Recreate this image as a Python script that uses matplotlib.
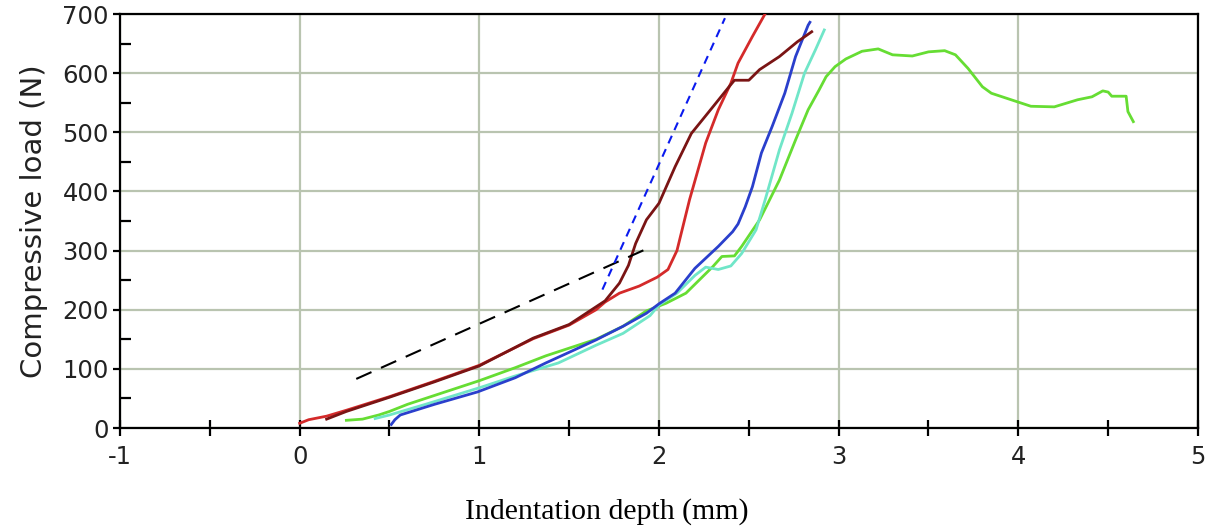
import matplotlib
matplotlib.use("Agg")
import matplotlib.pyplot as plt
from matplotlib.ticker import MultipleLocator

plt.rcParams["axes.unicode_minus"] = False

# ---- data ----
red_x = [0.00, 0.05, 0.15, 0.26, 0.50, 0.74, 1.00, 1.30, 1.50, 1.65, 1.70, 1.78, 1.89, 1.99, 2.05, 2.10, 2.17, 2.26, 2.33, 2.40, 2.44, 2.52, 2.59, 2.63]
red_y = [8, 14, 20, 30, 53, 78, 106, 151, 174, 200, 213, 228, 240, 255, 268, 300, 386, 482, 538, 583, 617, 662, 700, 720]

maroon_x = [0.15, 0.26, 0.50, 0.75, 1.00, 1.30, 1.50, 1.65, 1.70, 1.78, 1.83, 1.87, 1.93, 2.00, 2.09, 2.18, 2.30, 2.39, 2.42, 2.50, 2.56, 2.67, 2.77, 2.85]
maroon_y = [15, 28, 52, 78, 105, 152, 175, 205, 215, 245, 275, 312, 352, 380, 442, 498, 543, 577, 588, 588, 606, 628, 653, 670]

blue_x = [0.51, 0.53, 0.56, 0.75, 0.99, 1.20, 1.37, 1.50, 1.65, 1.80, 1.93, 2.00, 2.09, 2.20, 2.33, 2.41, 2.44, 2.48, 2.52, 2.57, 2.63, 2.70, 2.76, 2.83, 2.84]
blue_y = [6, 14, 22, 40, 61, 85, 110, 128, 149, 172, 194, 210, 228, 270, 307, 332, 345, 374, 408, 465, 510, 566, 628, 681, 686]

cyan_x = [0.42, 0.50, 0.70, 1.00, 1.20, 1.44, 1.65, 1.80, 1.95, 2.00, 2.10, 2.20, 2.26, 2.33, 2.40, 2.46, 2.54, 2.59, 2.67, 2.74, 2.81, 2.87, 2.92]
cyan_y = [16, 22, 40, 68, 88, 110, 140, 160, 190, 208, 228, 258, 272, 268, 274, 295, 335, 385, 470, 532, 600, 639, 673]

green_x = [0.26, 0.35, 0.44, 0.50, 0.60, 0.80, 1.00, 1.20, 1.37, 1.52, 1.65, 1.80, 1.93, 2.04, 2.15, 2.30, 2.35, 2.42, 2.46, 2.56, 2.67, 2.76, 2.83, 2.89, 2.93, 2.98, 3.04, 3.13, 3.22, 3.30, 3.41, 3.50, 3.59, 3.65, 3.72, 3.80, 3.85, 3.96, 4.07, 4.20, 4.33, 4.41, 4.47, 4.50, 4.52, 4.60, 4.61, 4.64]
green_y = [13, 15, 22, 28, 40, 60, 80, 102, 122, 137, 150, 172, 198, 211, 228, 273, 290, 291, 307, 352, 419, 487, 538, 571, 594, 611, 624, 637, 641, 631, 629, 636, 638, 631, 608, 577, 566, 555, 544, 543, 555, 560, 570, 568, 561, 561, 535, 518]

black_dash_x = [0.315, 1.925]
black_dash_y = [83, 302]
blue_dash_x = [1.685, 2.367]
blue_dash_y = [234, 693]

x_ticks = [-1, 0, 1, 2, 3, 4, 5]
y_ticks = [0, 100, 200, 300, 400, 500, 600, 700]

# ---- figure ----
fig = plt.figure(figsize=(12.13, 5.29), dpi=100)
ax = fig.add_axes([120/1213, 101/529, 1078/1213, 414/529])

grid_c = "#b9c4b0"
ax.set_xlim(-1, 5)
ax.set_ylim(0, 700)
ax.set_xticks(x_ticks)
ax.set_yticks(y_ticks)
ax.xaxis.set_minor_locator(MultipleLocator(0.5))
ax.yaxis.set_minor_locator(MultipleLocator(50))
ax.grid(True, which="major", color=grid_c, linewidth=1.6, zorder=0)
ax.set_axisbelow(True)

lw = 2.0
ax.plot(green_x, green_y, color="#66dd33", lw=lw, zorder=3)
ax.plot(cyan_x, cyan_y, color="#70e6c8", lw=lw, zorder=4)
ax.plot(blue_x, blue_y, color="#2a3fcc", lw=lw, zorder=5)
ax.plot(red_x, red_y, color="#d42a2a", lw=lw, zorder=6)
ax.plot(maroon_x, maroon_y, color="#7a1414", lw=lw, zorder=7)
ax.plot(black_dash_x, black_dash_y, color="black", lw=1.5, dashes=(8, 5), zorder=8)
ax.plot(blue_dash_x, blue_dash_y, color="#0a1aee", lw=1.5, dashes=(4, 3), zorder=8)

for s in ax.spines.values():
    s.set_linewidth(1.6)
    s.set_color("black")

ax.tick_params(axis="x", which="both", direction="inout", length=11, width=1.6,
               labelsize=17.5, pad=7)
ax.tick_params(axis="y", which="major", direction="out", length=5, width=1.6,
               labelsize=17.5, pad=3)
ax.tick_params(axis="y", which="minor", direction="in", length=8, width=1.6)
for lab in ax.get_xticklabels() + ax.get_yticklabels():
    lab.set_family("DejaVu Sans")
    lab.set_color("#222222")

ax.set_ylabel("Compressive load (N)", fontsize=21, family="DejaVu Sans",
              color="#222222", labelpad=10)
fig.text(607/1213, 1 - 512/529, "Indentation depth (mm)", fontsize=21.5,
         family="Liberation Serif", ha="center", va="center")

fig.savefig("out.png", dpi=100)
